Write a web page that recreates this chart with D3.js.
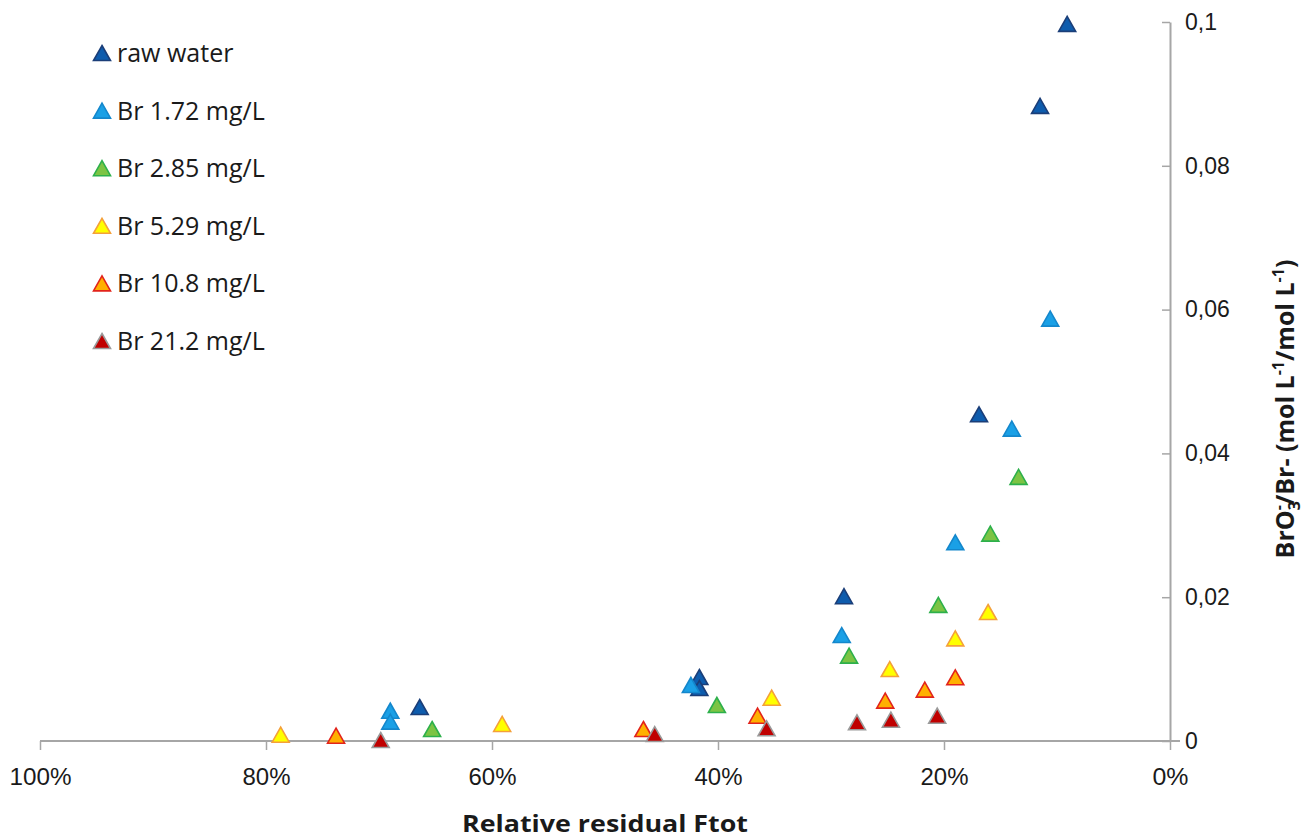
<!DOCTYPE html>
<html><head><meta charset="utf-8">
<script src="https://cdn.jsdelivr.net/npm/d3@7/dist/d3.min.js"></script>
<style>
body{margin:0;background:#fff;}
svg{display:block;font-family:"Open Sans","Noto Sans",sans-serif;}
</style></head>
<body><svg id="c" width="1306" height="839"></svg>
<script>
// ---- data ----
const seriesNames = ["raw water","Br 1.72 mg/L","Br 2.85 mg/L","Br 5.29 mg/L","Br 10.8 mg/L","Br 21.2 mg/L"];
const rawWaterX = [9.1, 11.5, 16.9, 28.85, 41.65, 41.65, 66.4];
const rawWaterY = [0.0996, 0.0882, 0.0453, 0.0200, 0.00876, 0.00723, 0.00459];
const br172X = [10.6, 14.0, 19.0, 29.05, 42.4, 69.0, 69.0];
const br172Y = [0.0586, 0.0433, 0.0275, 0.0146, 0.00765, 0.00407, 0.00255];
const br285X = [13.4, 15.9, 20.5, 28.4, 40.1, 65.3];
const br285Y = [0.0366, 0.0287, 0.0188, 0.01173, 0.00487, 0.00153];
const br529X = [16.1, 19.0, 24.8, 35.25, 59.1, 78.7];
const br529Y = [0.0178, 0.01414, 0.00987, 0.00588, 0.00223, 0.00074];
const br108X = [19.0, 21.7, 25.2, 36.5, 46.6, 73.8];
const br108Y = [0.00872, 0.0070, 0.00547, 0.00338, 0.00153, 0.0006];
const br212X = [20.6, 24.7, 27.7, 35.7, 45.6, 69.85];
const br212Y = [0.00338, 0.00282, 0.00246, 0.00163, 0.00083, 0.0];
const xTicks = [100, 80, 60, 40, 20, 0];
const xTickLabels = ["100%","80%","60%","40%","20%","0%"];
const yTicks = [0, 0.02, 0.04, 0.06, 0.08, 0.1];
const yTickLabels = ["0","0,02","0,04","0,06","0,08","0,1"];

const seriesX = [rawWaterX, br172X, br285X, br529X, br108X, br212X];
const seriesY = [rawWaterY, br172Y, br285Y, br529Y, br108Y, br212Y];
const fills   = ["#0E5CAD","#1AA0E6","#7CC444","#FFFF00","#FFB000","#C00000"];
const strokes = ["#1B3E78","#1487CC","#2DB04B","#F4A03A","#E2231A","#9A9A9A"];

const svg = d3.select("#c");
const x = d3.scaleLinear().domain([100, 0]).range([40, 1170]);
const y = d3.scaleLinear().domain([0, 0.1]).range([741, 22]);
const axisColor = "#A6A6A6";

// x axis
const gx = svg.append("g").attr("transform","translate(0,741)")
  .call(d3.axisBottom(x).tickValues(xTicks).tickSize(9).tickSizeOuter(0).tickPadding(19)
    .tickFormat((d,i)=>xTickLabels[i]));
gx.select(".domain").attr("stroke",axisColor).attr("stroke-width",2).attr("d","M40,0H1180");
gx.selectAll(".tick line").attr("stroke",axisColor).attr("stroke-width",1.5);
gx.selectAll(".tick text").attr("fill","#1a1a1a").style("font-size","23px")
  .attr("textLength", d => d === 100 ? 62 : (d === 0 ? 36 : 48)).attr("lengthAdjust","spacingAndGlyphs");

// y axis (right)
const gy = svg.append("g").attr("transform","translate(1170,0)")
  .call(d3.axisRight(y).tickValues(yTicks).tickSizeInner(-8).tickSizeOuter(0).tickPadding(15)
    .tickFormat((d,i)=>yTickLabels[i]));
gy.select(".domain").attr("stroke",axisColor).attr("stroke-width",2);
gy.selectAll(".tick line").attr("stroke",axisColor).attr("stroke-width",1.5);
gy.selectAll(".tick text").attr("fill","#1a1a1a").style("font-size","23px").attr("text-anchor","start");

// titles
svg.append("text").attr("x",605).attr("y",832).attr("text-anchor","middle")
  .style("font-size","24px").style("font-weight","bold").attr("fill","#1a1a1a")
  .attr("textLength",286).attr("lengthAdjust","spacingAndGlyphs")
  .text("Relative residual Ftot");

const yt = svg.append("text").attr("transform","translate(1294,409) rotate(-90)")
  .attr("text-anchor","middle").style("font-size","25px").style("font-weight","bold").attr("fill","#1a1a1a");
yt.append("tspan").text("BrO");
yt.append("tspan").text("3").style("font-size","16px").attr("dy",6);
yt.append("tspan").text("-").style("font-size","16px").attr("dx",-9).attr("dy",-16);
yt.append("tspan").text("/Br- (mol L").attr("dy",10);
yt.append("tspan").text("-1").style("font-size","16px").attr("dy",-10);
yt.append("tspan").text("/mol L").attr("dy",10);
yt.append("tspan").text("-1").style("font-size","16px").attr("dy",-10);
yt.append("tspan").text(")").attr("dy",10);

// triangle marker
const tri = "M0,-8.5L8.5,6.5L-8.5,6.5Z";

// points (draw series in order)
seriesX.forEach((xs, si) => {
  const pts = xs.map((v,i)=>({x:v, y:seriesY[si][i]}));
  svg.append("g").selectAll("path").data(pts).join("path")
    .attr("d", tri)
    .attr("transform", d=>`translate(${x(d.x)},${y(d.y)})`)
    .attr("fill", fills[si]).attr("stroke", strokes[si]).attr("stroke-width",1.6)
    .attr("stroke-linejoin","miter");
});

// legend
const leg = svg.append("g");
seriesNames.forEach((n, i) => {
  const gy0 = 54 + i*57.6;
  leg.append("path").attr("d",tri)
    .attr("transform",`translate(102,${gy0})`)
    .attr("fill",fills[i]).attr("stroke",strokes[i]).attr("stroke-width",1.6);
  leg.append("text").attr("x",117).attr("y",gy0+8).style("font-size","25px").attr("fill","#1a1a1a").text(n);
});
</script></body></html>
